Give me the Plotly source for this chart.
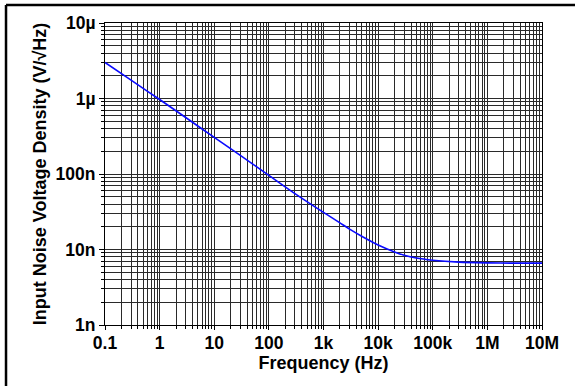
import plotly.graph_objects as go

freq_hz = [0.1, 0.3, 1, 3, 10, 30, 100, 300, 1e3, 2e3, 3e3, 5e3, 1e4, 2e4, 3e4, 5e4, 1e5, 3e5, 1e6, 3e6, 1e7]
noise_v = [3.0e-6, 1.75e-6, 0.97e-6, 0.56e-6, 0.305e-6, 0.176e-6, 96e-9, 55e-9, 31e-9, 22.5e-9,
           18.6e-9, 15.0e-9, 11.5e-9, 9.3e-9, 8.4e-9, 7.7e-9, 7.2e-9, 6.8e-9, 6.65e-9, 6.6e-9, 6.6e-9]

x_tickvals = [0.1, 1, 10, 100, 1e3, 1e4, 1e5, 1e6, 1e7]
x_ticktext = ["0.1", "1", "10", "100", "1k", "10k", "100k", "1M", "10M"]
y_tickvals = [1e-9, 1e-8, 1e-7, 1e-6, 1e-5]
y_ticktext = ["1n", "10n", "100n", "1µ", "10µ"]

x_minor = [m * 10 ** e for e in range(-1, 7) for m in range(2, 10)]
y_minor = [m * 10 ** e for e in range(-9, -5) for m in range(2, 10)]

font = "Liberation Sans, Arial, sans-serif"
grid_col = "#2a2a2a"

fig = go.Figure()
fig.add_trace(go.Scatter(x=freq_hz, y=noise_v, mode="lines",
                         line=dict(color="#0a0aff", width=1.6, shape="spline", smoothing=0.6),
                         showlegend=False))

fig.update_layout(
    width=575, height=386,
    margin=dict(l=105, r=33, t=23, b=61),
    paper_bgcolor="white", plot_bgcolor="white",
    font=dict(family=font, color="black", size=17),
)

fig.update_xaxes(
    type="log", range=[-1, 7], automargin=False,
    tickvals=x_tickvals, ticktext=x_ticktext,
    tickfont=dict(family=font, size=17.5, weight="bold"),
    ticks="outside", ticklen=4, tickcolor="black", ticklabelstandoff=-2,
    showgrid=True, gridcolor=grid_col, gridwidth=1,
    minor=dict(tickvals=x_minor, showgrid=True, gridcolor=grid_col, gridwidth=1,
               ticks="outside", ticklen=3, tickcolor="black"),
    showline=True, linecolor="black", linewidth=1, mirror=True,
    title=dict(text="<b>Frequency (Hz)</b>", font=dict(family=font, size=18), standoff=0),
)
fig.update_yaxes(
    type="log", range=[-9, -5], automargin=False,
    tickvals=y_tickvals, ticktext=y_ticktext,
    tickfont=dict(family=font, size=17.5, weight="bold"),
    ticks="outside", ticklen=5, tickcolor="black",
    showgrid=True, gridcolor=grid_col, gridwidth=1,
    minor=dict(tickvals=y_minor, showgrid=True, gridcolor=grid_col, gridwidth=1,
               ticks="outside", ticklen=3, tickcolor="black"),
    showline=True, linecolor="black", linewidth=1, mirror=True,
    title=dict(text="<b>Input Noise Voltage Density (V/√Hz)</b>", font=dict(family=font, size=18), standoff=4),
)

# outer frame (left and top edges visible in the reference; right/bottom fall outside the canvas)
fig.add_shape(type="line", xref="paper", yref="paper", x0=-0.2265, x1=-0.2265, y0=-0.3, y1=1.06,
              line=dict(color="black", width=2.5), layer="above")
fig.add_shape(type="line", xref="paper", yref="paper", x0=-0.2265, x1=1.3, y0=1.06, y1=1.06,
              line=dict(color="black", width=2.5), layer="above")

fig.write_html("out.html", config={"displayModeBar": False},
               post_script="document.body.style.margin='0px';")
